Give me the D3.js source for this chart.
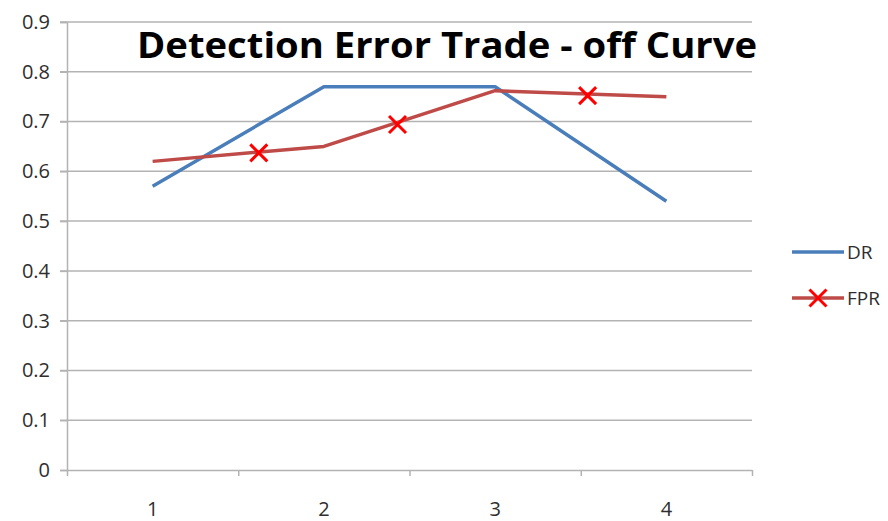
<!DOCTYPE html>
<html>
<head>
<meta charset="utf-8">
<script src="https://cdn.jsdelivr.net/npm/d3@7"></script>
<style>
  body { margin: 0; background: #fff; }
  text { font-family: "Open Sans", "Liberation Sans", sans-serif; }
</style>
</head>
<body>
<div id="chart"></div>
<script>
// data
var categories = ["1", "2", "3", "4"];
var yTicks = [0, 0.1, 0.2, 0.3, 0.4, 0.5, 0.6, 0.7, 0.8, 0.9];
var drValues = [0.57, 0.77, 0.77, 0.54];
var fprValues = [0.62, 0.65, 0.762, 0.75];
// the X markers sit between the categories in the original
var fprMarkX = [1.62, 2.43, 3.54];
var fprMarkY = [0.637, 0.694, 0.752];

var svgWidth = 888;
var svgHeight = 521;
var margin = { top: 22, right: 136, bottom: 51, left: 67 };
var width = svgWidth - margin.left - margin.right;
var height = svgHeight - margin.top - margin.bottom;

var blue = "#4a7ebb";
var darkRed = "#be4b48";
var gridColor = "#b3b3b3";
var textColor = "#2e2e2e";

var svg = d3.select("#chart")
    .append("svg")
    .attr("width", svgWidth)
    .attr("height", svgHeight);

var chartGroup = svg.append("g")
    .attr("transform", `translate(${margin.left}, ${margin.top})`);

var xBand = d3.scaleBand()
    .domain(categories)
    .range([0, width]);

// numeric x (category 1..4 at band centres) for lines and markers
var xLinear = d3.scaleLinear()
    .domain([0.5, 4.5])
    .range([0, width]);

var yLinear = d3.scaleLinear()
    .domain([0, 0.9])
    .range([height, 0]);

// gridlines
chartGroup.append("g")
    .selectAll("line")
    .data(yTicks.filter(d => d > 0))
    .enter()
    .append("line")
    .attr("x1", -7)
    .attr("x2", width)
    .attr("y1", d => yLinear(d))
    .attr("y2", d => yLinear(d))
    .attr("stroke", gridColor)
    .attr("stroke-width", 1.5);

// y axis
var leftAxis = d3.axisLeft(yLinear)
    .tickValues(yTicks)
    .tickFormat(d => d === 0 ? "0" : d3.format(".1f")(d))
    .tickSize(7)
    .tickPadding(10);

var yAxis = chartGroup.append("g").call(leftAxis);
yAxis.select(".domain").attr("stroke", gridColor).attr("stroke-width", 1.5);
yAxis.selectAll(".tick line").attr("stroke", gridColor).attr("stroke-width", 1.5);
yAxis.selectAll("text")
    .attr("fill", textColor)
    .style("font-size", "20px");

// x axis, ticks sit between the categories
var xAxis = chartGroup.append("g")
    .attr("transform", `translate(0, ${height})`)
    .call(d3.axisBottom(xLinear)
        .tickValues([0.5, 1.5, 2.5, 3.5, 4.5])
        .tickSize(6)
        .tickSizeOuter(0)
        .tickFormat(""));
xAxis.select(".domain").attr("stroke", gridColor).attr("stroke-width", 1.5);
xAxis.selectAll(".tick line").attr("stroke", gridColor).attr("stroke-width", 1.5);

chartGroup.append("g")
    .selectAll("text")
    .data(categories)
    .enter()
    .append("text")
    .attr("x", d => xBand(d) + xBand.bandwidth() / 2)
    .attr("y", height + 46)
    .attr("text-anchor", "middle")
    .attr("fill", textColor)
    .style("font-size", "20px")
    .text(d => d);

// lines
var line = d3.line()
    .x((d, i) => xLinear(i + 1))
    .y(d => yLinear(d));

chartGroup.append("path")
    .datum(drValues)
    .attr("d", line)
    .attr("fill", "none")
    .attr("stroke", blue)
    .attr("stroke-width", 3.5)
    .attr("stroke-linejoin", "round");

chartGroup.append("path")
    .datum(fprValues)
    .attr("d", line)
    .attr("fill", "none")
    .attr("stroke", darkRed)
    .attr("stroke-width", 3.5)
    .attr("stroke-linejoin", "round");

function crossPath(cx, cy, s) {
    return `M${cx - s},${cy - s}L${cx + s},${cy + s}M${cx - s},${cy + s}L${cx + s},${cy - s}`;
}

chartGroup.append("g")
    .selectAll("path")
    .data(fprMarkX)
    .enter()
    .append("path")
    .attr("d", (d, i) => crossPath(xLinear(d), yLinear(fprMarkY[i]), 8.5))
    .attr("stroke", "#ff0000")
    .attr("stroke-width", 3)
    .attr("fill", "none");

// title
svg.append("text")
    .attr("x", 447)
    .attr("y", 58)
    .attr("text-anchor", "middle")
    .attr("fill", "#000")
    .style("font-size", "36px")
    .style("font-weight", "bold")
    .attr("textLength", 620)
    .attr("lengthAdjust", "spacingAndGlyphs")
    .text("Detection Error Trade - off Curve");

// legend
var legend = svg.append("g").attr("transform", "translate(792, 252)");
legend.append("line")
    .attr("x1", 0).attr("x2", 52).attr("y1", 0).attr("y2", 0)
    .attr("stroke", blue).attr("stroke-width", 3.5);
legend.append("text")
    .attr("x", 55).attr("y", 7)
    .attr("fill", textColor)
    .style("font-size", "19px")
    .text("DR");
legend.append("line")
    .attr("x1", 0).attr("x2", 52).attr("y1", 46).attr("y2", 46)
    .attr("stroke", darkRed).attr("stroke-width", 3.5);
legend.append("path")
    .attr("d", crossPath(26, 46, 8.5))
    .attr("stroke", "#ff0000")
    .attr("stroke-width", 3)
    .attr("fill", "none");
legend.append("text")
    .attr("x", 55).attr("y", 53)
    .attr("fill", textColor)
    .style("font-size", "19px")
    .text("FPR");
</script>
</body>
</html>
